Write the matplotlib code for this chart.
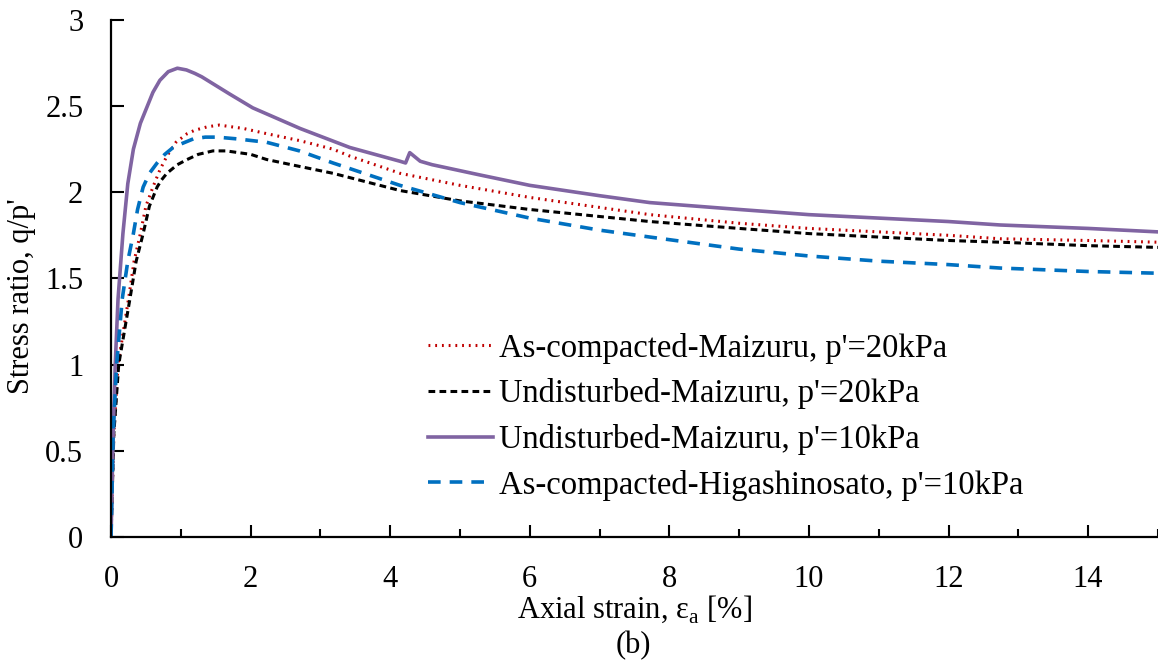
import matplotlib
matplotlib.use("Agg")
import matplotlib.pyplot as plt
from matplotlib.ticker import MultipleLocator

plt.rcParams['font.family'] = ['Liberation Serif', 'DejaVu Serif']
plt.rcParams['mathtext.fontset'] = 'custom'
plt.rcParams['mathtext.rm'] = 'Liberation Serif'

# Undisturbed-Maizuru, p'=10kPa
x_und10 = [0, 0.03, 0.06, 0.1, 0.17, 0.24, 0.32, 0.42, 0.52, 0.6, 0.7, 0.82, 0.95, 1.08, 1.2,
           1.3, 1.46, 1.7, 2.03, 2.71, 3.42, 4.14, 4.22, 4.28, 4.43, 4.6, 5.29, 6, 7, 7.72,
           9, 10, 11, 12, 12.74, 14, 15]
y_und10 = [0, 0.6, 1.0, 1.38, 1.76, 2.05, 2.25, 2.40, 2.5, 2.58, 2.65, 2.70, 2.72, 2.71, 2.69,
           2.67, 2.63, 2.57, 2.49, 2.37, 2.26, 2.18, 2.17, 2.23, 2.18, 2.16, 2.10, 2.04, 1.98, 1.94,
           1.90, 1.87, 1.85, 1.83, 1.81, 1.79, 1.77]

# As-compacted-Maizuru, p'=20kPa
x_asc20 = [0, 0.04, 0.1, 0.25, 0.33, 0.42, 0.5, 0.6, 0.7, 0.8, 0.93, 1.09, 1.2, 1.38, 1.55,
           1.9, 2.23, 2.7, 3.18, 3.42, 4.14, 5, 6, 7.72, 9, 10, 11, 12, 12.74, 14, 15]
y_asc20 = [0, 0.6, 1.0, 1.38, 1.6, 1.76, 1.92, 2.03, 2.13, 2.21, 2.29, 2.34, 2.36, 2.38, 2.39,
           2.37, 2.34, 2.30, 2.25, 2.21, 2.11, 2.04, 1.97, 1.87, 1.82, 1.79, 1.77, 1.75, 1.73, 1.72, 1.71]

# Undisturbed-Maizuru, p'=20kPa
x_und20 = [0, 0.04, 0.11, 0.27, 0.36, 0.46, 0.55, 0.66, 0.72, 0.8, 0.95, 1.09, 1.25, 1.46,
           1.65, 2.0, 2.23, 2.7, 3.18, 4.14, 5, 6, 7.72, 9, 10, 11, 12, 12.74, 14, 15]
y_und20 = [0, 0.6, 1.0, 1.38, 1.6, 1.76, 1.92, 2.03, 2.07, 2.11, 2.16, 2.19, 2.22, 2.24,
           2.24, 2.22, 2.19, 2.15, 2.11, 2.01, 1.95, 1.90, 1.83, 1.79, 1.76, 1.74, 1.72, 1.71, 1.69, 1.68]

# As-compacted-Higashinosato, p'=10kPa
x_hig10 = [0, 0.03, 0.08, 0.16, 0.24, 0.32, 0.38, 0.46, 0.55, 0.66, 0.77, 0.89, 1.0, 1.18,
           1.35, 1.52, 1.8, 2.23, 2.7, 3.18, 4.14, 5, 6, 7, 7.72, 9, 10, 11, 12, 12.74, 14, 15]
y_hig10 = [0, 0.6, 1.0, 1.38, 1.6, 1.76, 1.9, 2.03, 2.11, 2.17, 2.22, 2.26, 2.28, 2.31,
           2.32, 2.32, 2.31, 2.29, 2.24, 2.17, 2.04, 1.94, 1.85, 1.78, 1.74, 1.67, 1.63, 1.60,
           1.58, 1.56, 1.54, 1.53]

labels = ["As-compacted-Maizuru, p'=20kPa",
          "Undisturbed-Maizuru, p'=20kPa",
          "Undisturbed-Maizuru, p'=10kPa",
          "As-compacted-Higashinosato, p'=10kPa"]

fig = plt.figure(figsize=(11.58, 6.66), dpi=100)
ax = fig.add_axes([0.0959, 0.194, 0.904, 0.776])

ax.plot(x_asc20, y_asc20, color='#C00000', lw=2.2, linestyle=(0, (0.6, 1.6)), label=labels[0])
ax.plot(x_und20, y_und20, color='black', lw=2.2, linestyle=(0, (2.2, 1.4)), label=labels[1])
ax.plot(x_und10, y_und10, color='#8064A2', lw=2.6, linestyle='-', label=labels[2])
ax.plot(x_hig10, y_hig10, color='#0070C0', lw=2.6, linestyle=(0, (3.5, 2.5)), label=labels[3])

ax.set_xlim(0, 15)
ax.set_ylim(0, 3)
ax.xaxis.set_major_locator(MultipleLocator(2))
ax.xaxis.set_minor_locator(MultipleLocator(1))
ax.set_yticks([0, 0.5, 1, 1.5, 2, 2.5, 3])
ax.set_yticklabels(['0', '0.5', '1', '1.5', '2', '2.5', '3'])

for s in ['top', 'right']:
    ax.spines[s].set_visible(False)
for s in ['left', 'bottom']:
    ax.spines[s].set_linewidth(1.6)

ax.tick_params(axis='both', which='major', direction='in', length=9, width=1.5,
               labelsize=22, pad=20)
ax.tick_params(axis='x', which='minor', direction='in', length=6, width=1.5)

ax.set_xlabel(r"Axial strain, ε$_\mathregular{a}$ [%]", fontsize=22, labelpad=0)
ax.set_ylabel("Stress ratio, q/p'", fontsize=22)
ax.yaxis.set_label_coords(-0.072, 0.466)
fig.text(0.547, 0.008, "(b)", fontsize=22, ha='center', va='bottom')

ax.legend(loc='upper left', bbox_to_anchor=(0.29, 0.42), frameon=False, fontsize=23.5,
          handlelength=2.0, handletextpad=0.2, labelspacing=0.45, borderaxespad=0)

fig.savefig("out.png", dpi=100)
